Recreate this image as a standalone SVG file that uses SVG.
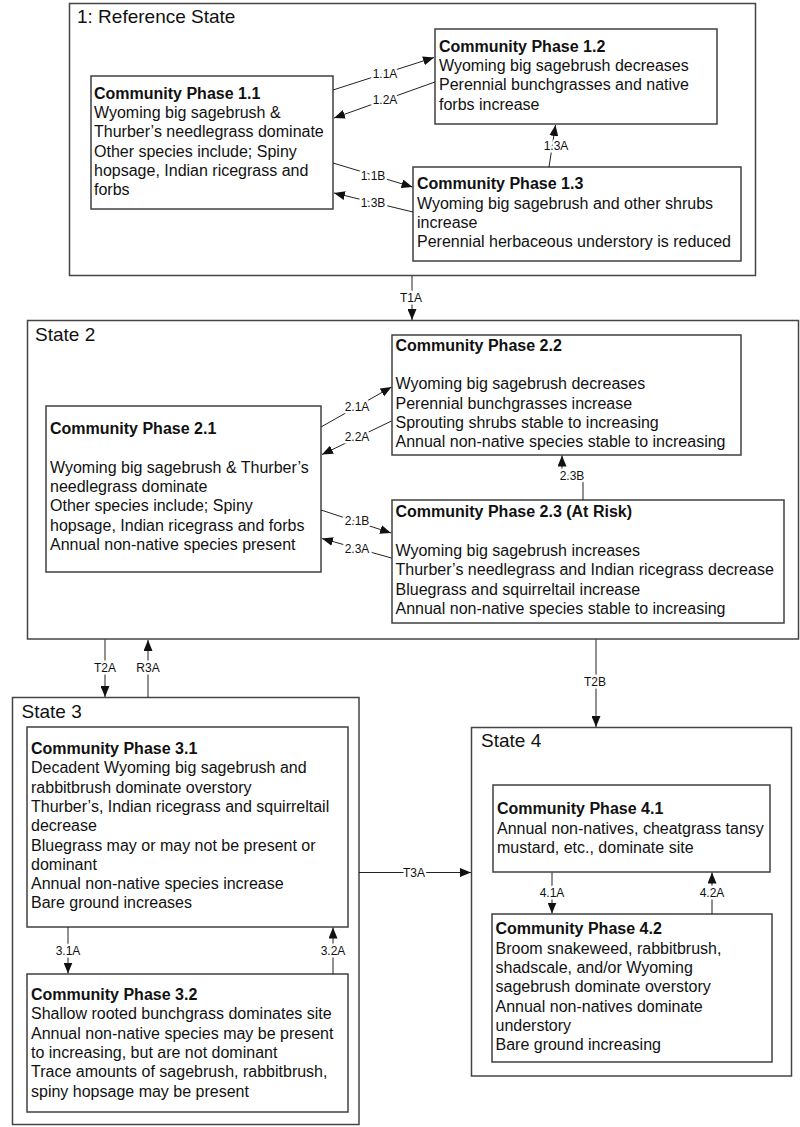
<svg xmlns="http://www.w3.org/2000/svg" width="800" height="1127" viewBox="0 0 800 1127">
<style>
.state{fill:#fff;stroke:#444;stroke-width:1.5}
.cp{fill:#fff;stroke:#404040;stroke-width:1.5}
.st{font-family:"Liberation Sans",Arial,sans-serif;font-size:19px;fill:#111}
.tx{font-family:"Liberation Sans",Arial,sans-serif;font-size:16px;fill:#111}
.tt{font-weight:bold}
.ln{fill:none;stroke:#222;stroke-width:1}
.lb{font-family:"Liberation Sans",Arial,sans-serif;font-size:12px;fill:#111;text-anchor:middle;stroke:#fff;stroke-width:5;paint-order:stroke;stroke-linejoin:round}
</style>
<defs>
<marker id="ah" markerUnits="userSpaceOnUse" markerWidth="11" markerHeight="9" refX="11" refY="4.5" orient="auto">
<path d="M0,0 L11,4.5 L0,9 z" fill="#111"/>
</marker>
</defs>
<rect width="800" height="1127" fill="#fff"/>
<g id="state1">
<rect class="state" x="69.5" y="3.5" width="686" height="272"/>
<text class="st" x="77" y="23">1: Reference State</text>
</g>
<g id="state2">
<rect class="state" x="27.5" y="320.5" width="771" height="318.5"/>
<text class="st" x="35" y="341">State 2</text>
</g>
<g id="state3">
<rect class="state" x="12.5" y="697.5" width="346.5" height="427"/>
<text class="st" x="21.5" y="718">State 3</text>
</g>
<g id="state4">
<rect class="state" x="471.5" y="727.5" width="320" height="348.5"/>
<text class="st" x="481" y="747">State 4</text>
</g>
<g id="cp1-1">
<rect class="cp" x="91" y="76" width="242" height="133"/>
<text class="tx" x="94"><tspan class="tt" x="94" y="98.7">Community Phase 1.1</tspan><tspan x="94" y="118">Wyoming big sagebrush &amp;</tspan><tspan x="94" y="137.3">Thurber’s needlegrass dominate</tspan><tspan x="94" y="156.7">Other species include; Spiny</tspan><tspan x="94" y="176">hopsage, Indian ricegrass and</tspan><tspan x="94" y="195.3">forbs</tspan></text>
</g>
<g id="cp1-2">
<rect class="cp" x="435" y="29" width="282" height="95"/>
<text class="tx"><tspan class="tt" x="439" y="51.7">Community Phase 1.2</tspan><tspan x="439" y="71">Wyoming big sagebrush decreases</tspan><tspan x="439" y="90.3">Perennial bunchgrasses and native</tspan><tspan x="439" y="109.7">forbs increase</tspan></text>
</g>
<g id="cp1-3">
<rect class="cp" x="413" y="167" width="328" height="94"/>
<text class="tx"><tspan class="tt" x="417" y="189.3">Community Phase 1.3</tspan><tspan x="417" y="208.7">Wyoming big sagebrush and other shrubs</tspan><tspan x="417" y="228">increase</tspan><tspan x="417" y="247.3">Perennial herbaceous understory is reduced</tspan></text>
</g>
<g id="cp2-1">
<rect class="cp" x="46" y="406" width="275" height="166"/>
<text class="tx"><tspan class="tt" x="50" y="434">Community Phase 2.1</tspan><tspan x="50" y="472.7">Wyoming big sagebrush &amp; Thurber’s</tspan><tspan x="50" y="492">needlegrass dominate</tspan><tspan x="50" y="511.3">Other species include; Spiny</tspan><tspan x="50" y="530.7">hopsage, Indian ricegrass and forbs</tspan><tspan x="50" y="550">Annual non-native species present</tspan></text>
</g>
<g id="cp2-2">
<rect class="cp" x="392" y="335" width="349" height="120"/>
<text class="tx"><tspan class="tt" x="395.5" y="350.7">Community Phase 2.2</tspan><tspan x="395.5" y="389.3">Wyoming big sagebrush decreases</tspan><tspan x="395.5" y="408.6">Perennial bunchgrasses increase</tspan><tspan x="395.5" y="427.9">Sprouting shrubs stable to increasing</tspan><tspan x="395.5" y="447.2">Annual non-native species stable to increasing</tspan></text>
</g>
<g id="cp2-3">
<rect class="cp" x="392" y="500" width="392" height="123"/>
<text class="tx"><tspan class="tt" x="395.5" y="517.3">Community Phase 2.3 (At Risk)</tspan><tspan x="395.5" y="556">Wyoming big sagebrush increases</tspan><tspan x="395.5" y="575.3">Thurber’s needlegrass and Indian ricegrass decrease</tspan><tspan x="395.5" y="594.6">Bluegrass and squirreltail increase</tspan><tspan x="395.5" y="613.9">Annual non-native species stable to increasing</tspan></text>
</g>
<g id="cp3-1">
<rect class="cp" x="27" y="727" width="321" height="200"/>
<text class="tx"><tspan class="tt" x="31" y="754">Community Phase 3.1</tspan><tspan x="31" y="773.3">Decadent Wyoming big sagebrush and</tspan><tspan x="31" y="792.6">rabbitbrush dominate overstory</tspan><tspan x="31" y="811.9">Thurber’s, Indian ricegrass and squirreltail</tspan><tspan x="31" y="831.2">decrease</tspan><tspan x="31" y="850.5">Bluegrass may or may not be present or</tspan><tspan x="31" y="869.8">dominant</tspan><tspan x="31" y="889.1">Annual non-native species increase</tspan><tspan x="31" y="908.4">Bare ground increases</tspan></text>
</g>
<g id="cp3-2">
<rect class="cp" x="27" y="974" width="321" height="138"/>
<text class="tx"><tspan class="tt" x="31" y="1000">Community Phase 3.2</tspan><tspan x="31" y="1019.3">Shallow rooted bunchgrass dominates site</tspan><tspan x="31" y="1038.6">Annual non-native species may be present</tspan><tspan x="31" y="1057.9">to increasing, but are not dominant</tspan><tspan x="31" y="1077.2">Trace amounts of sagebrush, rabbitbrush,</tspan><tspan x="31" y="1096.5">spiny hopsage may be present</tspan></text>
</g>
<g id="cp4-1">
<rect class="cp" x="493" y="785" width="277" height="87"/>
<text class="tx"><tspan class="tt" x="497" y="814.3">Community Phase 4.1</tspan><tspan x="497" y="833.6">Annual non-natives, cheatgrass tansy</tspan><tspan x="497" y="852.9">mustard, etc., dominate site</tspan></text>
</g>
<g id="cp4-2">
<rect class="cp" x="492" y="914" width="280" height="148"/>
<text class="tx"><tspan class="tt" x="495.5" y="934.3">Community Phase 4.2</tspan><tspan x="495.5" y="953.6">Broom snakeweed, rabbitbrush,</tspan><tspan x="495.5" y="972.9">shadscale, and/or Wyoming</tspan><tspan x="495.5" y="992.2">sagebrush dominate overstory</tspan><tspan x="495.5" y="1011.5">Annual non-natives dominate</tspan><tspan x="495.5" y="1030.8">understory</tspan><tspan x="495.5" y="1050.1">Bare ground increasing</tspan></text>
</g>
<g id="connectors">
<path class="ln" d="M333,90 L434,57.5" marker-end="url(#ah)"/>
<path class="ln" d="M435,82 L334,118" marker-end="url(#ah)"/>
<path class="ln" d="M333,163 L412.5,187" marker-end="url(#ah)"/>
<path class="ln" d="M413,212 L334,193" marker-end="url(#ah)"/>
<path class="ln" d="M549,167 L555.5,125" marker-end="url(#ah)"/>
<path class="ln" d="M412,276 V320" marker-end="url(#ah)"/>
<path class="ln" d="M321,427 L391.5,387" marker-end="url(#ah)"/>
<path class="ln" d="M391.5,421 L322,454.5" marker-end="url(#ah)"/>
<path class="ln" d="M321,510 L391,533" marker-end="url(#ah)"/>
<path class="ln" d="M391.5,558 L322,538.5" marker-end="url(#ah)"/>
<path class="ln" d="M583,500 V475 H562 V455.5" marker-end="url(#ah)"/>
<path class="ln" d="M105,639.5 V697" marker-end="url(#ah)"/>
<path class="ln" d="M148,697.5 V640" marker-end="url(#ah)"/>
<path class="ln" d="M596,639.5 V727" marker-end="url(#ah)"/>
<path class="ln" d="M359,872.5 H471" marker-end="url(#ah)"/>
<path class="ln" d="M68,927 V973.5" marker-end="url(#ah)"/>
<path class="ln" d="M333,974 V927.5" marker-end="url(#ah)"/>
<path class="ln" d="M552,872.5 V913.5" marker-end="url(#ah)"/>
<path class="ln" d="M712,914 V872.5" marker-end="url(#ah)"/>
<text class="lb" x="385" y="78.3">1.1A</text>
<text class="lb" x="385" y="104.3">1.2A</text>
<text class="lb" x="373" y="180">1.1B</text>
<text class="lb" x="373" y="207">1.3B</text>
<text class="lb" x="556" y="150">1.3A</text>
<text class="lb" x="411" y="302">T1A</text>
<text class="lb" x="357" y="411">2.1A</text>
<text class="lb" x="357" y="441">2.2A</text>
<text class="lb" x="357" y="525">2.1B</text>
<text class="lb" x="357" y="553">2.3A</text>
<text class="lb" x="572" y="480">2.3B</text>
<text class="lb" x="105" y="672">T2A</text>
<text class="lb" x="148" y="672">R3A</text>
<text class="lb" x="595" y="686">T2B</text>
<text class="lb" x="414" y="877">T3A</text>
<text class="lb" x="68" y="955">3.1A</text>
<text class="lb" x="333" y="955">3.2A</text>
<text class="lb" x="552" y="897">4.1A</text>
<text class="lb" x="712" y="897">4.2A</text>
</g>
</svg>
